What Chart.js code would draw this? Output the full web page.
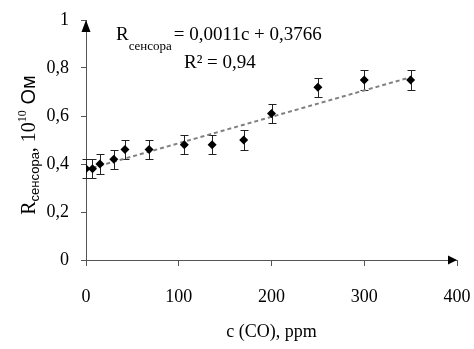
<!DOCTYPE html>
<html>
<head>
<meta charset="utf-8">
<script src="https://cdn.jsdelivr.net/npm/chart.js@4"></script>
<style>
  html, body { margin: 0; padding: 0; background: #fff; }
  #wrap { width: 474px; height: 349px; }
</style>
</head>
<body>
<div id="wrap"><canvas id="c" width="474" height="349"></canvas></div>
<script>
// ---- data ----
const concentrations = [0, 7, 15, 30, 42, 68, 106, 136, 170, 200, 250, 300, 350];
const resistance     = [0.38, 0.38, 0.40, 0.42, 0.46, 0.46, 0.48, 0.48, 0.50, 0.61, 0.72, 0.75, 0.75];
const errors         = [0.04, 0.04, 0.04, 0.04, 0.04, 0.04, 0.04, 0.04, 0.04, 0.04, 0.04, 0.04, 0.04];
const trendSlope = 0.0011;
const trendIntercept = 0.3766;
const trendRange = [0, 350];
const xTicks = [0, 100, 200, 300, 400];
const yTicks = [0, 0.2, 0.4, 0.6, 0.8, 1];

const SERIF = '"Liberation Serif", "Times New Roman", serif';
const SANS = '"Liberation Sans", Arial, sans-serif';

const pointData = concentrations.map((c, i) => ({x: c, y: resistance[i]}));
const trendData = trendRange.map(c => ({x: c, y: trendSlope * c + trendIntercept}));

function drawSegments(ctx, segs, x, y) {
  let cx = x;
  ctx.textBaseline = 'alphabetic';
  ctx.textAlign = 'left';
  for (const s of segs) {
    ctx.font = s.font;
    cx += (s.gap || 0);
    ctx.fillText(s.text, cx, y + (s.dy || 0));
    cx += ctx.measureText(s.text).width;
  }
  return cx - x;
}
function measureSegments(ctx, segs) {
  let w = 0;
  for (const s of segs) { ctx.font = s.font; w += ctx.measureText(s.text).width + (s.gap || 0); }
  return w;
}

const errorBars = {
  id: 'errorBars',
  beforeDatasetsDraw(chart) {
    const {ctx, scales: {x, y}} = chart;
    ctx.save();
    ctx.strokeStyle = '#222';
    ctx.lineWidth = 1;
    concentrations.forEach((c, i) => {
      const px = Math.round(x.getPixelForValue(c)) + 0.5;
      const top = Math.round(y.getPixelForValue(resistance[i] + errors[i])) + 0.5;
      const bot = Math.round(y.getPixelForValue(resistance[i] - errors[i])) + 0.5;
      ctx.beginPath();
      ctx.moveTo(px, top); ctx.lineTo(px, bot);
      ctx.moveTo(px - 4, top); ctx.lineTo(px + 4, top);
      ctx.moveTo(px - 4, bot); ctx.lineTo(px + 4, bot);
      ctx.stroke();
    });
    ctx.restore();
  }
};

const decorations = {
  id: 'decorations',
  afterDraw(chart) {
    const {ctx, scales: {x, y}} = chart;
    ctx.save();
    // axis arrows
    ctx.fillStyle = '#000';
    const ax = x.getPixelForValue(0), topY = y.getPixelForValue(1);
    ctx.beginPath();
    ctx.moveTo(ax, topY);
    ctx.lineTo(ax - 4.5, topY + 12);
    ctx.lineTo(ax + 4.5, topY + 12);
    ctx.closePath(); ctx.fill();
    const ay = y.getPixelForValue(0), rightX = x.getPixelForValue(400);
    ctx.beginPath();
    ctx.moveTo(rightX, ay);
    ctx.lineTo(rightX - 9, ay - 4.5);
    ctx.lineTo(rightX - 9, ay + 4.5);
    ctx.closePath(); ctx.fill();

    // equation annotation
    ctx.fillStyle = '#000';
    drawSegments(ctx, [
      {text: 'R', font: '19px ' + SERIF},
      {text: 'сенсора', font: '13px ' + SERIF, dy: 10},
      {text: '= 0,0011c + 0,3766', font: '19px ' + SERIF, gap: 2}
    ], 116, 40);
    drawSegments(ctx, [
      {text: 'R² = 0,94', font: '19px ' + SERIF}
    ], 184, 68);

    // y-axis title (rotated, with subscript and superscript)
    const ySegs = [
      {text: 'R', font: '20px ' + SERIF},
      {text: 'сенсора', font: '13px ' + SANS, dy: 4},
      {text: ', 10', font: '20px ' + SERIF},
      {text: '10', font: '12px ' + SERIF, dy: -9},
      {text: ' Ом', font: '20px ' + SANS}
    ];
    const w = measureSegments(ctx, ySegs);
    const cy = (y.top + y.bottom) / 2 + 5;
    ctx.translate(35, cy);
    ctx.rotate(-Math.PI / 2);
    drawSegments(ctx, ySegs, -w / 2, 0);
    ctx.restore();
  }
};

new Chart(document.getElementById('c'), {
  type: 'scatter',
  data: {
    datasets: [
      {
        label: 'trend',
        type: 'line',
        data: trendData,
        borderColor: '#808080',
        borderWidth: 2,
        borderDash: [4, 3],
        pointRadius: 0,
        fill: false,
        order: 2
      },
      {
        label: 'R',
        data: pointData,
        pointStyle: 'rectRot',
        pointRadius: 4.5,
        backgroundColor: '#000',
        borderColor: '#000',
        borderWidth: 0,
        order: 1
      }
    ]
  },
  options: {
    responsive: false,
    animation: false,
    events: [],
    layout: { padding: { top: 20, right: 17, left: 0, bottom: 0 } },
    plugins: { legend: { display: false }, tooltip: { enabled: false }, title: { display: false } },
    scales: {
      x: {
        type: 'linear',
        min: 0, max: 400,
        afterFit(s) { s.height = 89; s.paddingLeft = 0; s.paddingRight = 0; },
        afterBuildTicks(s) { s.ticks = xTicks.map(v => ({value: v})); },
        grid: { drawOnChartArea: false, drawTicks: true, tickLength: 6, color: '#555' },
        border: { display: true, color: '#555', width: 1 },
        ticks: { color: '#000', font: { family: SERIF, size: 18 }, padding: 20, maxRotation: 0 },
        title: { display: true, text: 'c (CO), ppm', color: '#000', font: { family: SERIF, size: 18 }, padding: { top: 0, bottom: 6 } }
      },
      y: {
        type: 'linear',
        min: 0, max: 1,
        afterFit(s) { s.width = 86; s.paddingTop = 0; s.paddingBottom = 0; },
        afterBuildTicks(s) { s.ticks = yTicks.map(v => ({value: v})); },
        grid: { drawOnChartArea: false, drawTicks: true, tickLength: 5, color: '#555' },
        border: { display: true, color: '#555', width: 1 },
        ticks: {
          color: '#000', font: { family: SERIF, size: 18 }, padding: 12,
          callback: v => String(Math.round(v * 10) / 10).replace('.', ',')
        }
      }
    }
  },
  plugins: [errorBars, decorations]
});
</script>
</body>
</html>
